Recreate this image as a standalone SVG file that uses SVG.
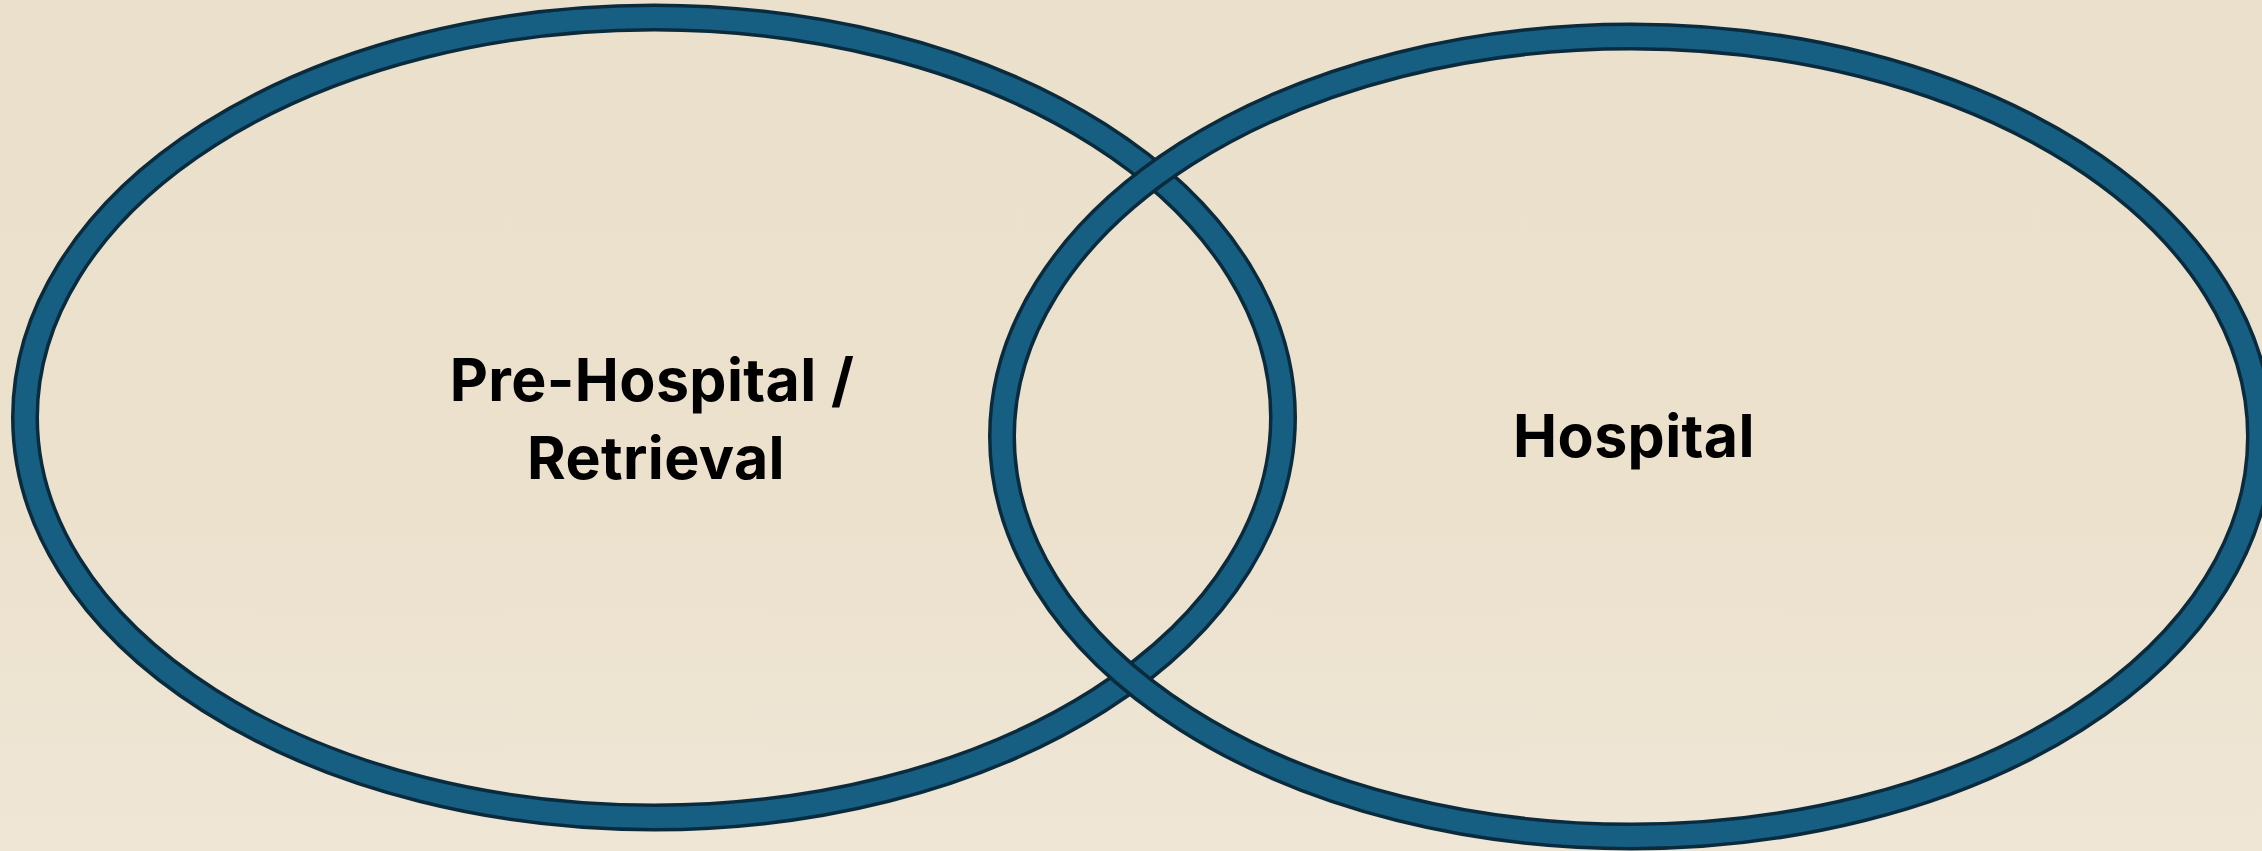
<svg xmlns="http://www.w3.org/2000/svg" width="2262" height="851" viewBox="0 0 2262 851">
  <defs>
    <linearGradient id="bg" x1="0" y1="0" x2="0" y2="1">
      <stop offset="0" stop-color="#ebe0cb"/>
      <stop offset="0.6" stop-color="#ece1cd"/>
      <stop offset="1" stop-color="#efe6d6"/>
    </linearGradient>
  </defs>
  <style>
    .ring-edge { fill: none; stroke: #0a2b3d; stroke-width: 28; }
    .ring-body { fill: none; stroke: #165e82; stroke-width: 21; }
    .label { font-family: Inter, "Liberation Sans", sans-serif; font-weight: 700; font-size: 59px; letter-spacing: 0.4px; fill: #000; text-anchor: middle; }
  </style>
  <rect x="0" y="0" width="2262" height="851" fill="url(#bg)"/>
  <g id="connectors"/>
  <g id="node-prehospital">
    <ellipse class="ring-edge" cx="654" cy="417.5" rx="629" ry="400"/>
    <ellipse class="ring-body" cx="654" cy="417.5" rx="629" ry="400"/>
    <text class="label" x="652" y="401">Pre-Hospital /</text>
    <text class="label" x="656" y="479">Retrieval</text>
  </g>
  <g id="node-hospital">
    <ellipse class="ring-edge" cx="1631" cy="436.5" rx="629" ry="400"/>
    <ellipse class="ring-body" cx="1631" cy="436.5" rx="629" ry="400"/>
    <text class="label" x="1634" y="457">Hospital</text>
  </g>
</svg>
